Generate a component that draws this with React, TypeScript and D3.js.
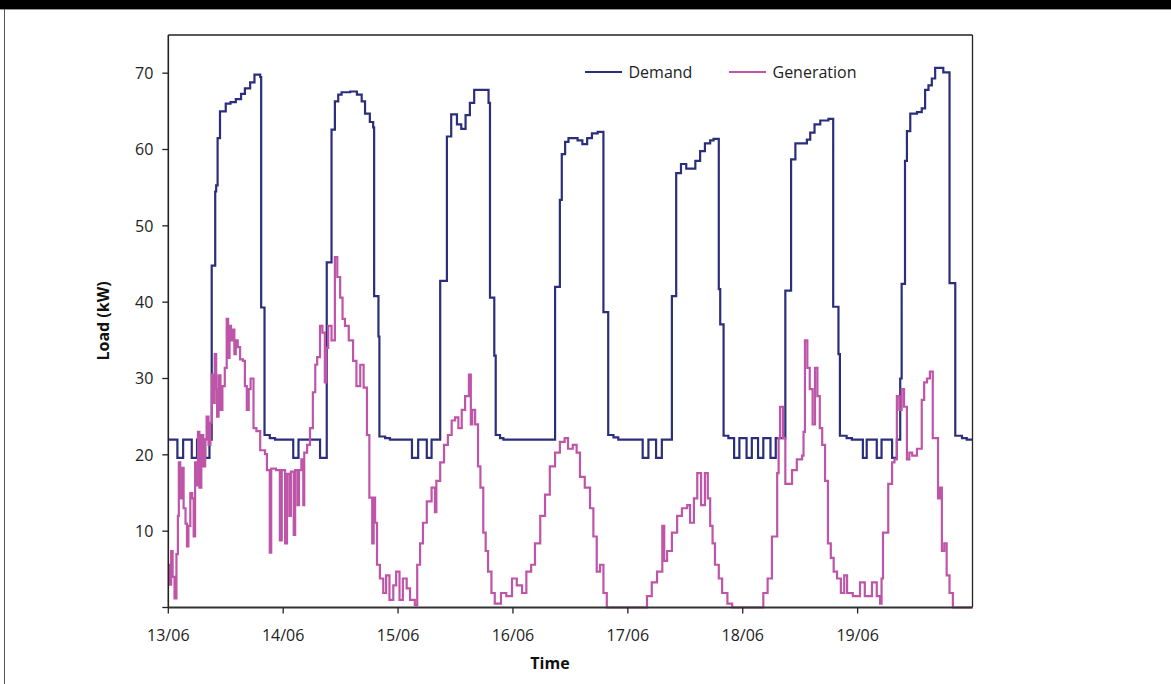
import React from 'react';
import * as d3 from 'd3';

const width = 1171;
const height = 684;
const plot = { left: 168.3, right: 972.5, top: 35, bottom: 607.5 };
const font = '"Open Sans", "Noto Sans", sans-serif';

// x values are hours since 13/06 00:00
const dayLabels = ['13/06', '14/06', '15/06', '16/06', '17/06', '18/06', '19/06'];
const loadTicks = [0, 10, 20, 30, 40, 50, 60, 70];
const seriesNames = ['Demand', 'Generation'];

const demand: [number, number][] = [
  [0, 22], [1.9, 19.6], [3.1, 22], [4.9, 19.6], [6.0, 22], [7.7, 19.6], [8.6, 22],
  [9.07, 44.8], [9.8, 54.5], [10.0, 55.3], [10.3, 61.5], [10.8, 65], [12.0, 66], [13.0, 66.2],
  [14.1, 66.6], [15.2, 67.3], [16.0, 68], [17.1, 68.8], [18.0, 69.8], [19.2, 69.5],
  [19.4, 39.3], [20.1, 22.6], [21.2, 22.2], [22.3, 22],
  [26.1, 19.6], [27.2, 22], [31.7, 19.6], [33.1, 45.2], [34.1, 62.6], [34.8, 66.3], [35.5, 67.2],
  [36.2, 67.5], [38.0, 67.6], [39.4, 67.2], [40.4, 66.3], [41.1, 64.7], [42.1, 63.6], [42.8, 62.9],
  [43.0, 40.8], [43.9, 35.5], [44.1, 22.4], [45.3, 22.2], [46.3, 22],
  [50.9, 19.6], [52.2, 22], [54.0, 19.6], [55.0, 22], [56.8, 42.8], [58.2, 61.7], [59.1, 64.6],
  [60.3, 63.3], [61.2, 62.7], [62.1, 64.5], [63.0, 66.1], [63.9, 67.8], [66.9, 66.1],
  [67.2, 40.6], [68.1, 33.0], [68.4, 22.6], [69.3, 22.2], [70.0, 22],
  [80.8, 42.0], [81.8, 53.4], [82.2, 59.4], [82.9, 61.0], [83.6, 61.5], [85.5, 61.2], [86.5, 60.7],
  [87.5, 61.5], [88.5, 62.1], [89.7, 62.3], [90.9, 38.7], [91.9, 22.6], [93.0, 22.3], [94.0, 22],
  [99.1, 19.6], [100.3, 22], [101.9, 19.6], [103.1, 22], [105.2, 40.8], [106.1, 56.9], [107.1, 58.1],
  [108.2, 57.5], [110.1, 58.5], [111.1, 59.8], [112.1, 60.8], [113.2, 61.2], [113.9, 61.4],
  [115.0, 41.7], [115.3, 37.1], [116.0, 22.5], [117.0, 22.2],
  [118.2, 19.6], [119.3, 22.2], [120.8, 19.6], [121.9, 22.2], [123.2, 19.6], [124.3, 22.2],
  [125.8, 19.6], [126.9, 22.2], [128.9, 41.5], [130.1, 58.7], [131.0, 60.8], [133.4, 61.3],
  [134.1, 62.2], [135.0, 63.3], [136.2, 63.8], [137.9, 64.0], [138.9, 39.4], [140.0, 33.2],
  [140.3, 22.5], [141.7, 22.2], [142.8, 22],
  [145.1, 19.6], [145.9, 22], [148.0, 19.6], [149.0, 22], [151.2, 19.6], [152.2, 22], [152.9, 30],
  [153.2, 42.4], [153.9, 58.5], [154.3, 62.4], [155.0, 64.7], [156.4, 64.9], [157.4, 65.4],
  [158.1, 67.8], [158.8, 68.4], [159.5, 69.3], [160.2, 70.7], [161.9, 70.1], [163.2, 42.5],
  [164.4, 22.5], [165.8, 22.2], [166.8, 22], [168, 22],
];

const generation: [number, number][] = [
  [0, 5.6], [0.3, 3], [0.6, 7.4], [0.9, 4], [1.3, 1.2], [1.7, 7], [2.0, 12], [2.2, 19], [2.5, 14.3],
  [2.8, 18.3], [3.2, 13], [3.6, 11], [3.9, 8], [4.2, 10.7], [4.6, 15], [5.0, 14.3], [5.3, 9.3],
  [5.6, 19], [5.9, 16], [6.2, 23], [6.5, 15.7], [6.9, 22.6], [7.3, 18.5], [7.7, 22], [8.0, 25],
  [8.4, 21.3], [8.8, 24.2], [9.1, 30.5], [9.4, 26.8], [9.7, 33.2], [10.0, 28.6], [10.2, 25],
  [10.5, 30.4], [10.9, 25.9], [11.3, 29], [11.8, 31.4], [12.2, 37.8], [12.5, 32.7], [12.8, 36.9],
  [13.1, 35], [13.4, 36.4], [13.8, 33.2], [14.1, 35], [14.5, 34.1], [15.0, 32.5], [15.6, 32.3],
  [16.0, 29], [16.4, 25.9], [16.8, 28.6], [17.2, 30], [17.8, 23.5], [18.4, 23.1], [19.2, 20.6],
  [20.2, 20.1], [20.6, 18], [21.2, 7.2], [21.5, 18.2], [22.5, 18], [23.3, 8.8], [23.7, 18],
  [24.4, 8.4], [24.8, 17.5], [25.3, 12], [25.6, 17.8], [26.2, 9.5], [26.5, 18], [27.0, 13.4],
  [27.3, 18], [27.8, 19.4], [28.2, 13.4], [28.4, 20.3], [29.0, 21.3], [29.6, 23.5], [30.2, 28.2],
  [30.7, 31.8], [31.1, 32.8], [31.7, 36.9], [32.2, 36], [32.7, 29.5], [33.0, 34], [33.4, 36.9],
  [34.1, 35], [34.8, 45.9], [35.3, 43.3], [35.9, 40.6], [36.4, 37.8], [36.9, 36.9], [37.7, 35],
  [38.6, 32.3], [39.3, 29], [40.1, 31.8], [40.8, 28.8], [41.5, 22.6], [42.0, 14.4], [42.6, 8.4],
  [42.9, 14.4], [43.2, 11.1], [43.6, 5.6], [44.2, 3.8], [44.9, 1.9], [45.5, 4.2], [46.2, 1.0],
  [47.0, 2.9], [47.6, 4.7], [48.3, 1.0], [49.0, 3.8], [49.8, 2.5], [50.5, 1.0], [51.5, 0.3],
  [52.0, 5.6], [52.6, 8.4], [53.2, 11.1], [54.0, 13.9], [55.0, 15.7], [55.7, 12.5], [56.0, 16.6],
  [56.8, 19], [57.6, 21.3], [58.4, 22.6], [59.2, 24.5], [59.9, 24.9], [60.6, 23.5], [61.3, 25.9],
  [62.0, 27.7], [62.8, 30.5], [63.2, 24], [63.5, 25.9], [64.1, 24], [64.7, 18.5], [65.2, 15.7],
  [65.8, 9.8], [66.3, 7.4], [66.8, 4.7], [67.5, 1.9], [68.2, 0.5], [69.5, 1.9], [70.6, 1.5],
  [71.8, 3.8], [72.8, 2.9], [73.9, 1.9], [74.8, 4.7], [75.8, 5.6], [76.6, 8.4], [77.7, 12],
  [78.7, 14.8], [79.7, 18.5], [80.8, 20.3], [81.8, 21.7], [82.8, 22.2], [83.5, 20.8], [84.5, 21.3],
  [85.3, 20.3], [86.0, 17.1], [87.0, 15.7], [88.1, 13], [88.8, 9.3], [89.5, 4.7], [90.2, 5.6],
  [90.9, 1.9], [91.6, 0], [100, 1.5], [101, 3.3], [102.1, 4.7], [103.2, 10.7], [103.6, 6.1],
  [104.2, 7.4], [105.2, 9.8], [106.3, 12], [107.3, 13], [108.4, 13.4], [109.0, 11.1], [109.8, 14.3],
  [110.5, 17.6], [111.3, 13.4], [112.1, 17.6], [112.7, 14.3], [113.2, 10.7], [113.7, 8.4],
  [114.2, 5.6], [115.0, 3.8], [115.7, 1.9], [116.8, 0.5], [117.8, 0], [124.3, 1.9], [125.2, 3.8],
  [126.1, 9.3], [127.2, 17.6], [127.5, 22.2], [127.8, 26.3], [128.4, 22.2], [128.9, 16.2],
  [130.3, 18], [131.3, 19.4], [132.4, 19.9], [132.7, 23], [133.0, 35], [133.5, 31.4], [134.0, 28.6],
  [134.6, 24], [135.1, 31.4], [135.6, 27.7], [136.1, 23.5], [136.6, 21.3], [137.2, 16.6],
  [137.8, 8.4], [138.4, 6.5], [139.0, 4.7], [139.7, 3.8], [140.5, 1.9], [141.2, 4.2], [141.8, 1.9],
  [143, 1.5], [144.5, 3.3], [145.5, 1.5], [147, 3.3], [148, 1.5], [148.7, 0.5], [149.0, 3.8],
  [149.3, 9.8], [150.4, 16.2], [151.2, 19], [151.7, 19.4], [152.2, 27.7], [152.7, 25.9],
  [153.2, 28.6], [153.7, 26.3], [154.3, 19.4], [154.8, 20.3], [155.4, 19.9], [156.4, 20.8],
  [157.4, 27.2], [157.9, 29.5], [158.5, 30], [159.1, 30.9], [159.7, 22.2], [160.8, 14.3],
  [161.2, 15.7], [161.6, 7.4], [162.1, 8.4], [162.6, 4.2], [163.2, 1.9], [163.9, 0], [168, 0],
];

const colors = ['#2b2e7a', '#bf55a8'];

export default function App() {
  const x = d3.scaleLinear().domain([0, 168]).range([plot.left, plot.right]);
  const y = d3.scaleLinear().domain([0, 75]).range([plot.bottom, plot.top]);
  const line = d3.line<[number, number]>()
    .x(d => x(d[0]))
    .y(d => y(d[1]))
    .curve(d3.curveStepAfter);

  const series = [demand, generation];

  return (
    <svg width={width} height={height} style={{ position: 'absolute', left: 0, top: 0, background: '#fff' }}>
      <rect x={0} y={0} width={width} height={9} fill="#000" />
      <line x1={0} x2={width} y1={9.5} y2={9.5} stroke="#9a9a9a" />
      <line x1={4.5} x2={4.5} y1={9} y2={height} stroke="#555" />

      {/* frame */}
      <line x1={plot.left} x2={plot.right} y1={plot.top} y2={plot.top} stroke="#222" strokeWidth={1.3} />
      <line x1={plot.right} x2={plot.right} y1={plot.top} y2={plot.bottom} stroke="#222" strokeWidth={1.3} />

      {series.map((s, i) => (
        <path key={seriesNames[i]} d={line(s) || ''} fill="none" stroke={colors[i]} strokeWidth={2.2} strokeLinejoin="miter" />
      ))}

      {/* y axis */}
      <line x1={plot.left} x2={plot.left} y1={plot.top} y2={plot.bottom} stroke="#222" strokeWidth={1.6} />
      {loadTicks.map(t => (
        <g key={t} transform={`translate(0,${y(t)})`}>
          <line x1={plot.left - 6} x2={plot.left} stroke="#222" strokeWidth={1.3} />
          {t > 0 && (
            <text x={plot.left - 15} dy="0.36em" textAnchor="end" fontFamily={font} fontSize={16} fill="#222">{t}</text>
          )}
        </g>
      ))}

      {/* x axis */}
      <line x1={plot.left} x2={plot.right} y1={plot.bottom} y2={plot.bottom} stroke="#333" strokeWidth={1.8} />
      {dayLabels.map((d, i) => (
        <g key={d} transform={`translate(${x(i * 24)},${plot.bottom})`}>
          <line y1={0} y2={6} stroke="#222" strokeWidth={1.3} />
          <text y={33} textAnchor="middle" fontFamily={font} fontSize={16} fill="#222">{d}</text>
        </g>
      ))}

      <text x={550} y={669} textAnchor="middle" fontFamily={font} fontSize={16} fontWeight="bold" fill="#111">Time</text>
      <text transform="translate(109,321) rotate(-90)" textAnchor="middle" fontFamily={font} fontSize={16} fontWeight="bold" fill="#111">Load (kW)</text>

      {/* legend */}
      {seriesNames.map((n, i) => (
        <g key={n} transform={`translate(${585 + i * 144},72)`}>
          <line x1={0} x2={37} stroke={colors[i]} strokeWidth={2} />
          <text x={43.5} dy="0.36em" fontFamily={font} fontSize={16} fill="#222">{n}</text>
        </g>
      ))}
    </svg>
  );
}
